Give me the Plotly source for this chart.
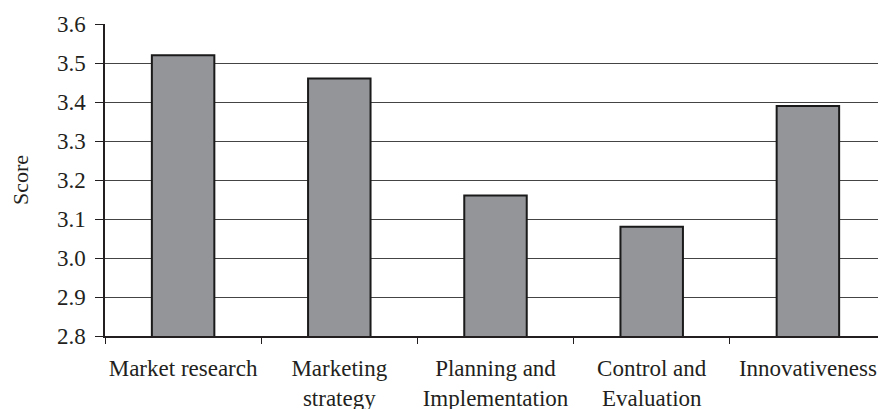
import plotly.graph_objects as go

categories = ["Market research", "Marketing<br>strategy", "Planning and<br>Implementation",
              "Control and<br>Evaluation", "Innovativeness"]
scores = [3.52, 3.46, 3.16, 3.08, 3.39]
y_ticks = [2.8, 2.9, 3.0, 3.1, 3.2, 3.3, 3.4, 3.5, 3.6]
y_labels = ["2.8", "2.9", "3.0", "3.1", "3.2", "3.3", "3.4", "3.5", "3.6"]

font = "Liberation Serif, Times New Roman, serif"

fig = go.Figure(go.Bar(
    x=categories, y=scores, width=0.4,
    marker=dict(color="#939598", line=dict(color="#1a1a1a", width=2)),
))

fig.update_layout(
    width=878, height=401,
    margin=dict(l=97, r=0, t=16, b=73, autoexpand=False),
    paper_bgcolor="white", plot_bgcolor="white",
    showlegend=False,
    font=dict(family=font, size=23, color="#231f20"),
    bargap=0.6,
)
fig.update_xaxes(
    showline=True, linecolor="#231f20", linewidth=1.5,
    ticks="outside", tickson="boundaries", ticklen=6, tickcolor="#231f20",
    showgrid=False, tickfont=dict(family=font, size=23), automargin=False,
    ticklabelstandoff=11, tickangle=0,
)
fig.update_yaxes(
    range=[2.8, 3.6], tickvals=y_ticks, ticktext=y_labels,
    showline=True, linecolor="#231f20", linewidth=1.5,
    ticks="outside", ticklen=8, tickcolor="#231f20",
    showgrid=True, gridcolor="#444444", gridwidth=1,
    zeroline=False, automargin=False,
    title=dict(text="Score", font=dict(family=font, size=22), standoff=24),
    tickfont=dict(family=font, size=23), ticklabelstandoff=5,
)
fig.write_html("out.html")
